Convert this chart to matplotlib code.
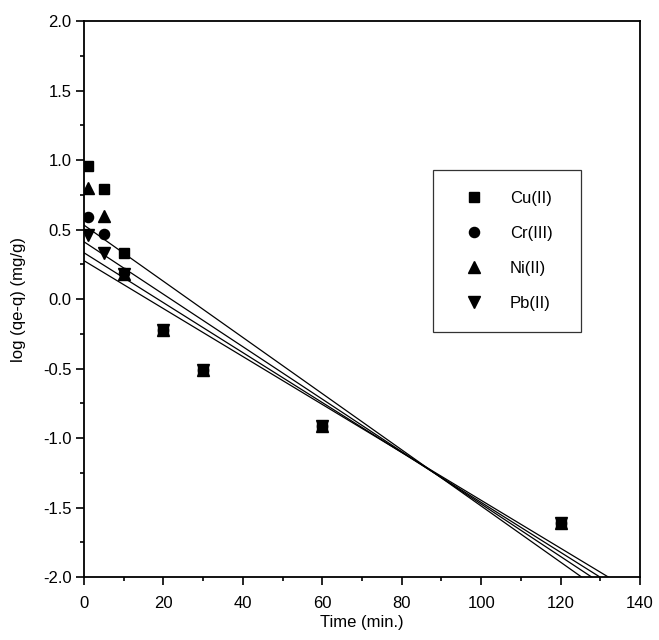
import numpy as np
import matplotlib
matplotlib.use("Agg")
import matplotlib.pyplot as plt
from matplotlib.ticker import MultipleLocator, FormatStrFormatter

plt.rcParams['font.family'] = ['Liberation Sans', 'DejaVu Sans']

# 数据：时间 (min) 和各金属的 log(qe-q)
time = [1, 5, 10, 20, 30, 60, 120]
cu = [0.96, 0.79, 0.33, -0.22, -0.51, -0.91, -1.61]
cr = [0.59, 0.47, 0.19, -0.22, -0.51, -0.91, -1.61]
ni = [0.80, 0.60, 0.18, -0.22, -0.51, -0.91, -1.61]
pb = [0.46, 0.33, 0.18, -0.22, -0.51, -0.91, -1.61]

# 线性拟合线 (截距, 斜率)
fit_intercept = [0.532, 0.333, 0.412, 0.276]
fit_slope = [-0.02021, -0.01796, -0.01887, -0.01724]

labels = ['Cu(II)', 'Cr(III)', 'Ni(II)', 'Pb(II)']
markers = ['s', 'o', '^', 'v']
sizes = [6.8, 7.3, 8, 8]

fig = plt.figure(figsize=(6.59, 6.40), dpi=100)
ax = fig.add_axes([0.1275, 0.0984, 0.9712 - 0.1275, 0.967 - 0.0984])

series = [cu, cr, ni, pb]
for ys, lab, m, ms in zip(series, labels, markers, sizes):
    ax.plot(time, ys, linestyle='none', marker=m, markersize=ms,
            color='black', label=lab)

# 拟合直线
xfit = np.array([0, 140])
for b, k in zip(fit_intercept, fit_slope):
    ax.plot(xfit, b + k * xfit, color='black', linewidth=0.9)

ax.set_xlim(0, 140)
ax.set_ylim(-2.0, 2.0)
ax.xaxis.set_major_locator(MultipleLocator(20))
ax.xaxis.set_minor_locator(MultipleLocator(10))
ax.yaxis.set_major_locator(MultipleLocator(0.5))
ax.yaxis.set_minor_locator(MultipleLocator(0.25))
ax.yaxis.set_major_formatter(FormatStrFormatter('%.1f'))
ax.tick_params(which='both', direction='out', top=False, right=False,
               labelsize=12, width=1.2)
ax.tick_params(which='major', length=5.5)
ax.tick_params(which='minor', length=3)
ax.tick_params(axis='x', which='major', pad=8)
for s in ax.spines.values():
    s.set_linewidth(1.3)

ax.set_xlabel('Time (min.)', fontsize=12, labelpad=3)
ax.set_ylabel('log (qe-q) (mg/g)', fontsize=12, labelpad=12)

leg = ax.legend(loc='upper left', bbox_to_anchor=(0.628, 0.441, 0.266, 0.291),
                mode='expand', borderaxespad=0, fontsize=12, frameon=True,
                fancybox=False, handlelength=2.4, handletextpad=0.96,
                borderpad=1.25, labelspacing=1.2)
leg.get_frame().set_edgecolor('black')
leg.get_frame().set_linewidth(0.9)

fig.savefig('out.png', dpi=100)
